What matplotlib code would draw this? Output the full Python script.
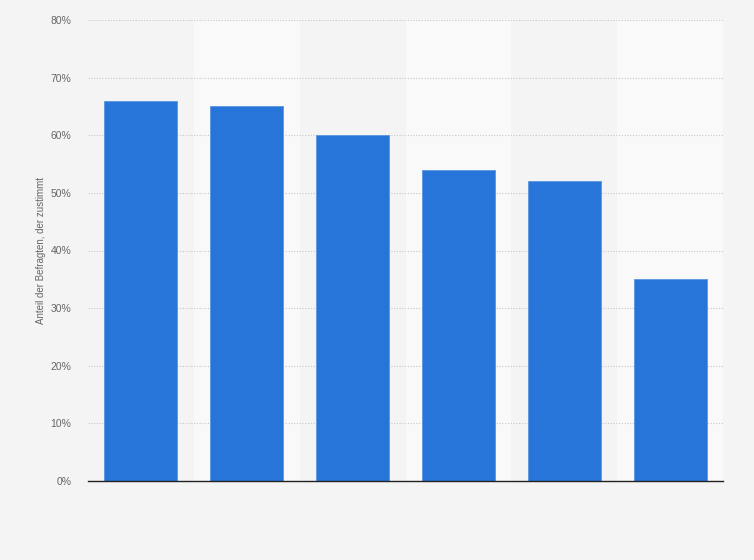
import matplotlib.pyplot as plt
import numpy as np

categories = ['', '', '', '', '', '']
values = [66, 65, 60, 54, 52, 35]
yticks = [0, 10, 20, 30, 40, 50, 60, 70, 80]
ytick_labels = ['0%', '10%', '20%', '30%', '40%', '50%', '60%', '70%', '80%']

plt.rcParams['font.family'] = ['Liberation Sans', 'DejaVu Sans']

bg = '#f4f4f4'
fig = plt.figure(figsize=(7.54, 5.6), dpi=100, facecolor=bg)
ax = fig.add_axes([88 / 754, 79 / 560, 635 / 754, 461 / 560])
ax.set_facecolor(bg)

x = np.arange(len(values))
# alternating column bands
for i in x:
    if i % 2 == 1:
        ax.axvspan(i - 0.5, i + 0.5, color='#f9f9f9', zorder=0, lw=0)

ax.bar(x, values, width=0.69, color='#2775d9', edgecolor='#5b95e2',
       linewidth=0.6, zorder=3)

ax.set_xlim(-0.5, len(values) - 0.5)
ax.set_ylim(0, 80)
ax.set_yticks(yticks)
ax.set_yticklabels(ytick_labels)
ax.set_xticks(x)
ax.set_xticklabels(categories)
ax.tick_params(axis='y', length=0, labelsize=7.5, labelcolor='#666666', pad=12)
ax.tick_params(axis='x', length=0)
ax.grid(axis='y', color='#c8c8c8', linestyle=(0, (1, 1.5)), linewidth=0.8, zorder=1)
for s in ['top', 'right', 'left']:
    ax.spines[s].set_visible(False)
ax.spines['bottom'].set_color('#222222')
ax.spines['bottom'].set_linewidth(1.0)
ax.spines['bottom'].set_zorder(4)

ax.set_ylabel('Anteil der Befragten, der zustimmt', fontsize=7, color='#666666',
              labelpad=3)

fig.savefig('out.png', dpi=100, facecolor=bg)
